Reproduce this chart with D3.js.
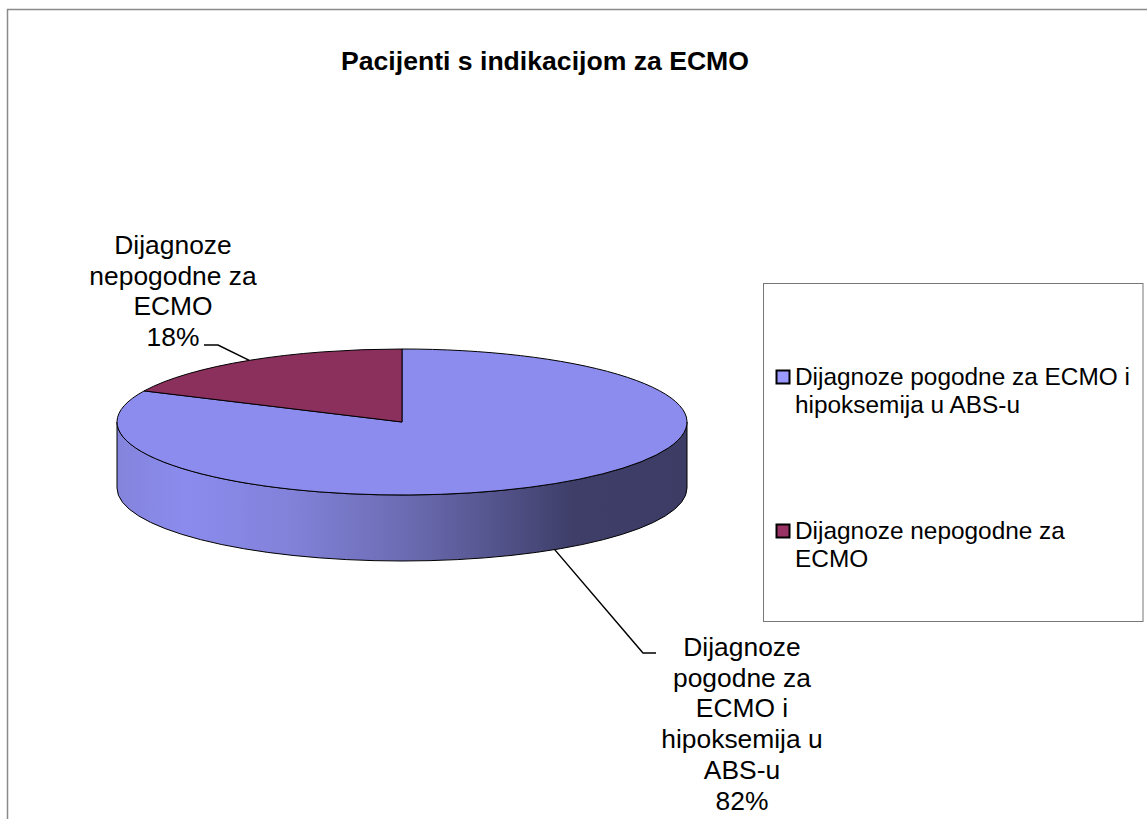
<!DOCTYPE html>
<html>
<head>
<meta charset="utf-8">
<title>Pacijenti s indikacijom za ECMO</title>
<script src="https://cdn.jsdelivr.net/npm/d3@7"></script>
<style>
html, body { margin: 0; padding: 0; background: #fff; }
svg { display: block; }
text { font-family: "Liberation Sans", Arial, sans-serif; fill: #000; }
</style>
</head>
<body>
<svg></svg>
<script>
var WIDTH = 1147;
var HEIGHT = 819;

var chartTitle = "Pacijenti s indikacijom za ECMO";
var categories = ["Dijagnoze pogodne za ECMO i hipoksemija u ABS-u", "Dijagnoze nepogodne za ECMO"];
var values = [82, 18];
var topColors = ["#8c8cef", "#8b2f5c"];
var legendColors = ["#9999ff", "#993366"];
var labelLines = [
    ["Dijagnoze", "pogodne za", "ECMO i", "hipoksemija u", "ABS-u", "82%"],
    ["Dijagnoze", "nepogodne za", "ECMO", "18%"]
];
var legendLines = [
    ["Dijagnoze pogodne za ECMO i", "hipoksemija u ABS-u"],
    ["Dijagnoze nepogodne za", "ECMO"]
];

var CX = 402, CY = 422, RX = 285, RY = 73, DEPTH = 66;

var svg = d3.select("svg")
    .attr("width", WIDTH)
    .attr("height", HEIGHT);

// frame, the right side and the bottom are cut off in the original
svg.append("path")
    .attr("d", "M7.5,819V9.5H1147")
    .attr("fill", "none")
    .attr("stroke", "#8a8a8a")
    .attr("stroke-width", 1.5);

svg.append("text")
    .attr("x", 545)
    .attr("y", 70)
    .attr("text-anchor", "middle")
    .attr("font-weight", "bold")
    .attr("font-size", 26.6)
    .text(chartTitle);

var gradient = svg.append("defs").append("linearGradient")
    .attr("id", "wall")
    .attr("gradientUnits", "userSpaceOnUse")
    .attr("x1", CX - RX).attr("x2", CX + RX)
    .attr("y1", 0).attr("y2", 0);

gradient.selectAll("stop")
    .data([
        [0, "#8484dc"], [0.12, "#8b8bee"], [0.3, "#8282da"], [0.5, "#6c6cb4"],
        [0.65, "#565690"], [0.8, "#3e3e69"], [1, "#3c3c65"]
    ])
    .enter().append("stop")
    .attr("offset", function(d) { return d[0]; })
    .attr("stop-color", function(d) { return d[1]; });

var pie = d3.pie().sort(null)(values);

// point on the rim for a pie angle, clockwise from 12 o'clock
function rim(angle, drop)
{
    return [CX + RX * Math.sin(angle), CY - RY * Math.cos(angle) + drop];
}

// leader lines go first, the pie covers their ends
var leaderKnees = [
    [[643, 653], [656, 653]],
    [[218, 345], [204, 345]]
];

svg.append("g")
    .selectAll("path")
    .data(pie)
    .enter().append("path")
    .attr("fill", "none")
    .attr("stroke", "#000")
    .attr("stroke-width", 1.5)
    .attr("d", function(d, i)
    {
        var mid = (d.startAngle + d.endAngle) / 2;
        var start = rim(mid, Math.cos(mid) < 0 ? DEPTH : 0);
        return d3.line()([start].concat(leaderKnees[i]));
    });

svg.append("path")
    .attr("d", "M" + (CX - RX) + "," + CY
        + "A" + RX + "," + RY + " 0 0 0 " + (CX + RX) + "," + CY
        + "V" + (CY + DEPTH)
        + "A" + RX + "," + RY + " 0 0 1 " + (CX - RX) + "," + (CY + DEPTH) + "Z")
    .attr("fill", "url(#wall)")
    .attr("stroke", "#000")
    .attr("stroke-width", 1);

var arc = d3.arc().innerRadius(0).outerRadius(RX);

svg.append("g")
    .attr("transform", "translate(" + CX + "," + CY + ") scale(1," + (RY / RX) + ")")
    .selectAll("path")
    .data(pie)
    .enter().append("path")
    .attr("d", arc)
    .attr("fill", function(d, i) { return topColors[i]; })
    .attr("stroke", "#000")
    .attr("stroke-width", 1)
    .attr("vector-effect", "non-scaling-stroke");

// data labels
var labelPos = [[742, 656], [173, 254]];

labelLines.forEach(function(lines, i)
{
    svg.append("text")
        .attr("text-anchor", "middle")
        .attr("font-size", 26.4)
        .selectAll("tspan")
        .data(lines)
        .enter().append("tspan")
        .attr("x", labelPos[i][0])
        .attr("y", function(d, j) { return labelPos[i][1] + j * 30.7; })
        .text(function(d) { return d; });
});

// legend
svg.append("rect")
    .attr("x", 763.5).attr("y", 283.5)
    .attr("width", 379.5).attr("height", 338)
    .attr("fill", "#fff")
    .attr("stroke", "#777")
    .attr("stroke-width", 1);

var legendY = [385, 539];

var legend = svg.append("g")
    .selectAll("g")
    .data(categories)
    .enter().append("g");

legend.append("rect")
    .attr("x", 776.5)
    .attr("y", function(d, i) { return legendY[i] - 14.5; })
    .attr("width", 13)
    .attr("height", 13)
    .attr("fill", function(d, i) { return legendColors[i]; })
    .attr("stroke", "#000")
    .attr("stroke-width", 2);

legend.append("text")
    .attr("font-size", 24.4)
    .selectAll("tspan")
    .data(function(d, i) { return legendLines[i].map(function(t) { return { t: t, i: i }; }); })
    .enter().append("tspan")
    .attr("x", 795)
    .attr("y", function(d, j) { return legendY[d.i] + j * 28; })
    .text(function(d) { return d.t; });
</script>
</body>
</html>
